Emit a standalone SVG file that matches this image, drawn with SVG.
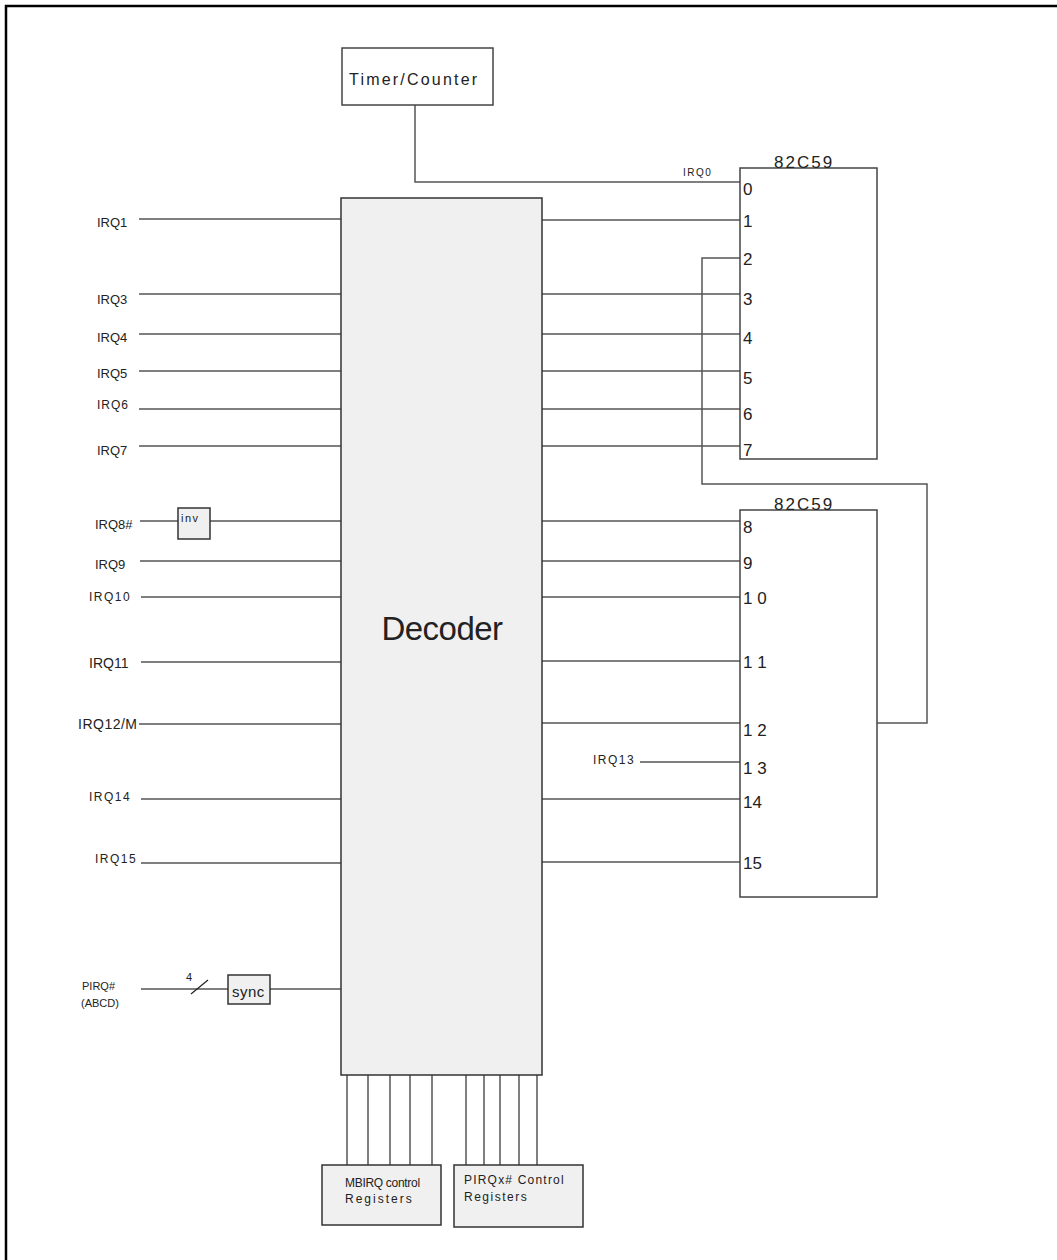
<svg xmlns="http://www.w3.org/2000/svg" width="1057" height="1260" viewBox="0 0 1057 1260">
<style>
text{font-family:"Liberation Sans",Arial,sans-serif;fill:#222}
.box{fill:#fff;stroke:#444;stroke-width:1.5}
.gbox{fill:#f0f0f0;stroke:#333;stroke-width:1.5}
.w{fill:none;stroke:#555;stroke-width:1.5}
.lbl{font-size:13px}
.sm{font-size:12px;letter-spacing:1.5px}
.pin{font-size:17px}
.ttl{font-size:17px;letter-spacing:2px}
</style>
<rect width="1057" height="1260" fill="#fff"/>
<path d="M6,1260 V6 H1057" fill="none" stroke="#000" stroke-width="2.5"/>

<g id="connectors">
  <path class="w" d="M415,105 V182 H740"/>
  <path class="w" d="M740,258 H702 V484 H927 V723 H877"/>
  <path class="w" d="M139,219 H341 M139,294 H341 M139,334 H341 M139,371 H341 M139,409 H341 M139,446 H341"/>
  <path class="w" d="M140,521 H178 M210,521 H341 M140,561 H341 M141,597 H341 M141,662 H341 M139,724 H341 M141,799 H341 M141,863 H341"/>
  <path class="w" d="M141,989 H228 M270,989 H341"/>
  <path d="M191,994 L208,980" stroke="#222" stroke-width="1.2"/>
  <path class="w" d="M542,220 H740 M542,294 H740 M542,334 H740 M542,371 H740 M542,409 H740 M542,446 H740"/>
  <path class="w" d="M542,521 H740 M542,561 H740 M542,597 H740 M542,661 H740 M542,723 H740 M640,762 H740 M542,799 H740 M542,862 H740"/>
  <path class="w" d="M347,1075 V1165 M368,1075 V1165 M390,1075 V1165 M410,1075 V1165 M432,1075 V1165"/>
  <path class="w" d="M466,1075 V1165 M484,1075 V1165 M500,1075 V1165 M519,1075 V1165 M537,1075 V1165"/>
</g>

<g id="timer">
  <rect class="box" x="342" y="48" width="151" height="57"/>
  <text x="349" y="85" font-size="16" letter-spacing="2.2">Timer/Counter</text>
</g>

<g id="decoder">
  <rect class="gbox" x="341" y="198" width="201" height="877"/>
  <text x="442" y="640" font-size="33" text-anchor="middle" letter-spacing="-0.5">Decoder</text>
</g>

<g id="pic1">
  <rect class="box" x="740" y="168" width="137" height="291"/>
  <text class="ttl" x="774" y="168">82C59</text>
  <text class="pin" x="743" y="195">0</text>
  <text class="pin" x="743" y="227">1</text>
  <text class="pin" x="743" y="265">2</text>
  <text class="pin" x="743" y="305">3</text>
  <text class="pin" x="743" y="344">4</text>
  <text class="pin" x="743" y="384">5</text>
  <text class="pin" x="743" y="420">6</text>
  <text class="pin" x="743" y="456">7</text>
</g>

<g id="pic2">
  <rect class="box" x="740" y="510" width="137" height="387"/>
  <text class="ttl" x="774" y="510">82C59</text>
  <text class="pin" x="743" y="533">8</text>
  <text class="pin" x="743" y="569">9</text>
  <text class="pin" x="743" y="604">1 0</text>
  <text class="pin" x="743" y="668">1 1</text>
  <text class="pin" x="743" y="736">1 2</text>
  <text class="pin" x="743" y="774">1 3</text>
  <text class="pin" x="743" y="808">14</text>
  <text class="pin" x="743" y="869">15</text>
</g>

<g id="labels">
  <text x="683" y="176" font-size="10" letter-spacing="1.5">IRQ0</text>
  <text class="lbl" x="97" y="227">IRQ1</text>
  <text class="lbl" x="97" y="304">IRQ3</text>
  <text class="lbl" x="97" y="342">IRQ4</text>
  <text class="lbl" x="97" y="378">IRQ5</text>
  <text x="97" y="409" font-size="12" letter-spacing="1">IRQ6</text>
  <text class="lbl" x="97" y="455">IRQ7</text>
  <text class="lbl" x="95" y="529">IRQ8#</text>
  <text class="lbl" x="95" y="569">IRQ9</text>
  <text class="sm" x="89" y="601">IRQ10</text>
  <text x="89" y="668" font-size="14">IRQ11</text>
  <text x="78" y="729" font-size="14" letter-spacing="0.5">IRQ12/M</text>
  <text class="sm" x="89" y="801">IRQ14</text>
  <text class="sm" x="95" y="863">IRQ15</text>
  <text class="sm" x="593" y="764">IRQ13</text>
  <text x="82" y="990" font-size="11">PIRQ#</text>
  <text x="81" y="1007" font-size="11">(ABCD)</text>
  <text x="186" y="981" font-size="11">4</text>
</g>

<g id="inv">
  <rect class="gbox" x="178" y="508" width="32" height="31"/>
  <text x="181" y="522" font-size="11" letter-spacing="1.5">inv</text>
</g>

<g id="sync">
  <rect class="gbox" x="228" y="975" width="42" height="29"/>
  <text x="232" y="997" font-size="15" letter-spacing="0.5">sync</text>
</g>

<g id="mbirq">
  <rect class="gbox" x="322" y="1165" width="119" height="60"/>
  <text x="345" y="1187" font-size="12" letter-spacing="-0.3">MBIRQ control</text>
  <text x="345" y="1203" font-size="12" letter-spacing="2">Registers</text>
</g>

<g id="pirqx">
  <rect class="gbox" x="454" y="1165" width="129" height="62"/>
  <text x="464" y="1184" font-size="12" letter-spacing="1.2">PIRQx#  Control</text>
  <text x="464" y="1201" font-size="12" letter-spacing="1.5">Registers</text>
</g>
</svg>
